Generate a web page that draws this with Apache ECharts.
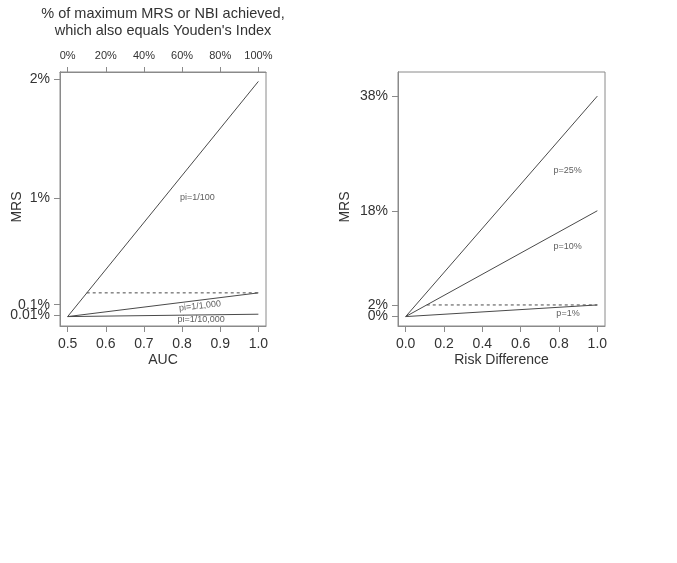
<!DOCTYPE html>
<html>
<head>
<meta charset="utf-8">
<script src="https://cdn.jsdelivr.net/npm/echarts@6/dist/echarts.min.js"></script>
<style>
  html, body { margin: 0; padding: 0; background: #fff; }
  #chart { width: 677px; height: 563px; }
</style>
</head>
<body>
<div id="chart"></div>
<script>
// left panel: MRS vs AUC
const aucTicks = [0.5, 0.6, 0.7, 0.8, 0.9, 1.0];
const youdenTicks = [0, 20, 40, 60, 80, 100];
const leftYTicks = [0.0001, 0.001, 0.01, 0.02];
const leftYLabels = ["0.01%", "0.1%", "1%", "2%"];
const aucLines = [
  { name: "pi=1/100", data: [[0.5, 0], [1.0, 0.0198]] },
  { name: "pi=1/1,000", data: [[0.5, 0], [1.0, 0.001998]] },
  { name: "pi=1/10,000", data: [[0.5, 0], [1.0, 0.00019998]] },
];
const aucDashed = [[0.55, 0.001998], [1.0, 0.001998]];
const aucNotes = [
  { text: "pi=1/100", at: [0.84, 0.01], rotate: 0 },
  { text: "pi=1/1,000", at: [0.847, 0.00089], rotate: 6 },
  { text: "pi=1/10,000", at: [0.85, -0.00024], rotate: 0 },
];

// right panel: MRS vs risk difference
const rdTicks = [0, 0.2, 0.4, 0.6, 0.8, 1.0];
const rightYTicks = [0, 0.0198, 0.18, 0.375];
const rightYLabels = ["0%", "2%", "18%", "38%"];
const rdLines = [
  { name: "p=25%", data: [[0, 0], [1, 0.375]] },
  { name: "p=10%", data: [[0, 0], [1, 0.18]] },
  { name: "p=1%", data: [[0, 0], [1, 0.0198]] },
];
const rdDashed = [[0.11, 0.0198], [1, 0.0198]];
const rdNotes = [
  { text: "p=25%", at: [0.845, 0.248] },
  { text: "p=10%", at: [0.845, 0.12] },
  { text: "p=1%", at: [0.847, 0.0046] },
];

const ink = "#333";
const lineInk = "#4a4a4a";
const boxInk = "#8a8a8a";
const font = "Liberation Sans, Arial, Helvetica, sans-serif";

function labelFrom(ticks, labels) {
  return function (v) {
    for (let i = 0; i < ticks.length; i++) {
      if (Math.abs(ticks[i] - v) < 1e-9) return labels[i];
    }
    return "";
  };
}

// R-style axis: box edge line, outward ticks only at given values
function axis(opts, ticks, fmt, size, tickLen, margin) {
  return Object.assign({
    type: "value",
    splitLine: { show: false },
    nameMoveOverlap: false,
    axisLine: { show: true, onZero: false, lineStyle: { color: boxInk, width: 1 } },
    axisTick: { show: true, inside: false, length: tickLen, lineStyle: { color: boxInk }, customValues: ticks },
    axisLabel: {
      color: ink, fontSize: size, fontFamily: font, margin: margin,
      hideOverlap: false, showMinLabel: true, showMaxLabel: true,
      customValues: ticks, formatter: fmt,
    },
    nameTextStyle: { color: ink, fontSize: 14, fontFamily: font },
  }, opts);
}

// every other tick goes on a twin axis so that crowded labels are all drawn
const evens = (a) => a.filter((_, i) => i % 2 === 0);
const odds = (a) => a.filter((_, i) => i % 2 === 1);

function lineSeries(lines, xi, yi) {
  return lines.map((l) => ({
    type: "line",
    name: l.name,
    xAxisIndex: xi,
    yAxisIndex: yi,
    data: l.data,
    symbol: "none",
    silent: true,
    lineStyle: { color: lineInk, width: 1 },
  }));
}

function dashedSeries(data, xi, yi) {
  return {
    type: "line",
    xAxisIndex: xi,
    yAxisIndex: yi,
    data: data,
    symbol: "none",
    silent: true,
    lineStyle: { color: lineInk, width: 1, type: [3, 3] },
  };
}

function noteSeries(notes, xi, yi) {
  return {
    type: "scatter",
    xAxisIndex: xi,
    yAxisIndex: yi,
    symbolSize: 0,
    silent: true,
    data: notes.map((n) => ({
      value: n.at,
      label: {
        show: true,
        position: "inside",
        formatter: n.text,
        rotate: n.rotate || 0,
        color: ink,
        fontSize: 9,
        fontFamily: font,
      },
    })),
  };
}

const nameStyle = { color: ink, fontSize: 14, fontFamily: font, padding: [0, 16, 0, 0] };

const chart = echarts.init(document.getElementById("chart"));
chart.setOption({
  animation: false,
  backgroundColor: "#fff",
  title: {
    text: "% of maximum MRS or NBI achieved,\nwhich also equals Youden's Index",
    left: 158,
    top: 0,
    textAlign: "center",
    textStyle: { color: ink, fontSize: 14.5, fontWeight: "normal", fontFamily: font, lineHeight: 17 },
  },
  grid: [
    { left: 60, top: 72, width: 206, height: 254, outerBoundsMode: "none", containLabel: false, show: true, borderColor: boxInk, borderWidth: 1, backgroundColor: "transparent" },
    { left: 398, top: 72, width: 207, height: 254, outerBoundsMode: "none", containLabel: false, show: true, borderColor: boxInk, borderWidth: 1, backgroundColor: "transparent" },
  ],
  xAxis: [
    axis({ gridIndex: 0, min: 0.48, max: 1.02, name: "AUC", nameLocation: "middle", nameGap: 27 },
      aucTicks, (v) => v.toFixed(1), 14, 6, 11),
    axis({ gridIndex: 0, position: "top", min: -4, max: 104 },
      youdenTicks, (v) => v + "%", 11, 5, 11),
    axis({ gridIndex: 1, min: -0.04, max: 1.04, name: "Risk Difference", nameLocation: "middle", nameGap: 27 },
      rdTicks, (v) => v.toFixed(1), 14, 6, 11),
  ],
  yAxis: [
    axis({ gridIndex: 0, min: -0.000792, max: 0.020592, name: "MRS", nameLocation: "middle", nameGap: 36, nameTextStyle: nameStyle },
      evens(leftYTicks), labelFrom(leftYTicks, leftYLabels), 14, 6, 10),
    axis({ gridIndex: 0, position: "left", offset: 0, min: -0.000792, max: 0.020592 },
      odds(leftYTicks), labelFrom(leftYTicks, leftYLabels), 14, 6, 10),
    axis({ gridIndex: 1, min: -0.016, max: 0.416, name: "MRS", nameLocation: "middle", nameGap: 46, nameTextStyle: nameStyle },
      evens(rightYTicks), labelFrom(rightYTicks, rightYLabels), 14, 6, 10),
    axis({ gridIndex: 1, position: "left", offset: 0, min: -0.016, max: 0.416 },
      odds(rightYTicks), labelFrom(rightYTicks, rightYLabels), 14, 6, 10),
  ],
  series: [
    ...lineSeries(aucLines, 0, 0),
    dashedSeries(aucDashed, 0, 0),
    noteSeries(aucNotes, 0, 0),
    ...lineSeries(rdLines, 2, 2),
    dashedSeries(rdDashed, 2, 2),
    noteSeries(rdNotes, 2, 2),
  ],
});
</script>
</body>
</html>
